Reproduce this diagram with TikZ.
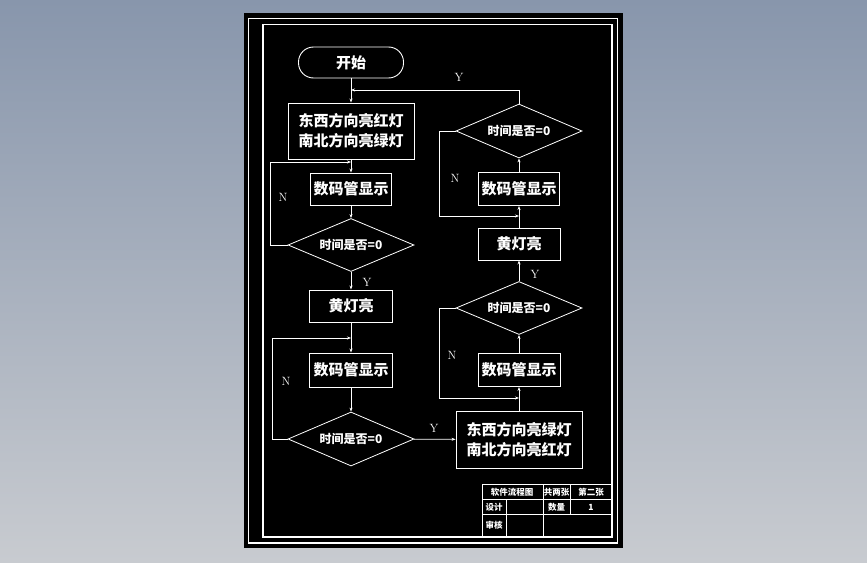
\documentclass[tikz,border=0pt]{standalone}
\usepackage{fontspec}
\newfontfamily\cjk{Noto Sans CJK SC}
\usetikzlibrary{shapes.geometric,arrows.meta}
\definecolor{bgtop}{RGB}{136,150,172}
\definecolor{bgbot}{RGB}{200,203,208}
\begin{document}
\begin{tikzpicture}[x=1pt,y=-1pt,
  box/.style={draw=white, line width=0.9pt, text=white, font=\cjk\bfseries\fontsize{15}{20}\selectfont, inner sep=0pt, align=center},
  dia/.style={diamond, draw=white, line width=0.8pt, aspect=2.4, inner sep=0pt, minimum width=126pt, minimum height=53pt, text=white, font=\cjk\bfseries\fontsize{12}{14}\selectfont},
  lbl/.style={text=white, inner sep=0pt, font=\fontsize{12}{12}\selectfont},
  arr/.style={draw=white, line width=0.8pt, -{Stealth[length=4pt,width=3pt]}},
  tb/.style={text=white, inner sep=0pt, font=\cjk\bfseries\fontsize{8.5}{9}\selectfont},
  frame/.style={draw=white, line width=1.3pt},
  tline/.style={draw=white, line width=0.7pt}]
\shade[top color=bgtop, bottom color=bgbot] (0,0) rectangle (867,562);
\useasboundingbox (0,0) rectangle (867,562);
\fill[black] (243.5,13) rectangle (623,548);
\draw[frame] (248.5,18.5) rectangle (617.5,543);
\draw[frame] (263,24.5) rectangle (612,537);

% left column
\node[box, rounded corners=15pt, minimum width=105pt, minimum height=31pt] (start) at (351,62.5) {开始};
\node[box, minimum width=126pt, minimum height=56pt] (b1) at (351,131) {东西方向亮红灯\\南北方向亮绿灯};
\node[box, minimum width=81pt, minimum height=32pt] (d1) at (351,189) {数码管显示};
\node[dia] (q1) at (351,245) {时间是否=0};
\node[box, minimum width=83pt, minimum height=32pt] (y1) at (351,306) {黄灯亮};
\node[box, minimum width=83pt, minimum height=34pt] (d2) at (351,370) {数码管显示};
\node[dia, minimum height=54pt] (q2) at (351,439) {时间是否=0};
% right column
\node[box, minimum width=126pt, minimum height=57pt] (b2) at (519,439.5) {东西方向亮绿灯\\南北方向亮红灯};
\node[box, minimum width=82pt, minimum height=33pt] (d3) at (519,370) {数码管显示};
\node[dia] (q3) at (519,308) {时间是否=0};
\node[box, minimum width=82pt, minimum height=32pt] (y2) at (519,244) {黄灯亮};
\node[box, minimum width=81pt, minimum height=33pt] (d4) at (519,189) {数码管显示};
\node[dia, minimum height=54pt] (q4) at (519,131) {时间是否=0};

% junction points
\coordinate (j0) at (351,90);
\coordinate (j1) at (351,162);
\coordinate (j2) at (351,338);
\coordinate (j3) at (519,398);
\coordinate (j4) at (519,216);

% main flow
\draw[arr] (start) -- (b1);
\draw[arr] (b1) -- (d1);
\draw[arr] (d1) -- (q1);
\draw[arr] (q1) -- (y1);
\draw[arr] (y1) -- (d2);
\draw[arr] (d2) -- (q2);
\draw[arr] (q2) -- (b2);
\draw[arr] (b2) -- (d3);
\draw[arr] (d3) -- (q3);
\draw[arr] (q3) -- (y2);
\draw[arr] (y2) -- (d4);
\draw[arr] (d4) -- (q4);

% loops
\draw[arr] (q1.west) -- ++(-17,0) |- (j1);
\draw[arr] (q2.west) -- ++(-15,0) |- (j2);
\draw[arr] (q3.west) -- ++(-16,0) |- (j3);
\draw[arr] (q4.west) -- ++(-16,0) |- (j4);
\draw[arr] (q4.north) |- (j0);

% labels
\node[lbl] (ly0) at (459,77) {Y};
\node[lbl] (ln1) at (283,197) {N};
\node[lbl] (ly1) at (367,282) {Y};
\node[lbl] (ln2) at (286,381) {N};
\node[lbl] (ly2) at (434,428) {Y};
\node[lbl] (ln3) at (452,355) {N};
\node[lbl] (ly3) at (535,274) {Y};
\node[lbl] (ln4) at (455,178) {N};

% title block
\draw[tline] (482,484) rectangle (612,537);
\draw[tline] (482,499) -- (612,499);
\draw[tline] (482,514) -- (612,514);
\draw[tline] (506,499) -- (506,537);
\draw[tline] (543,484) -- (543,537);
\draw[tline] (570,484) -- (570,514);
\node[tb] (t1) at (512,492) {软件流程图};
\node[tb] (t2) at (556.5,492) {共两张};
\node[tb] (t3) at (591,492) {第二张};
\node[tb] (t4) at (494,507) {设计};
\node[tb] (t5) at (556.5,507) {数量};
\node[tb] (t6) at (591,507) {1};
\node[tb] (t7) at (494,525.5) {审核};
\end{tikzpicture}
\end{document}
